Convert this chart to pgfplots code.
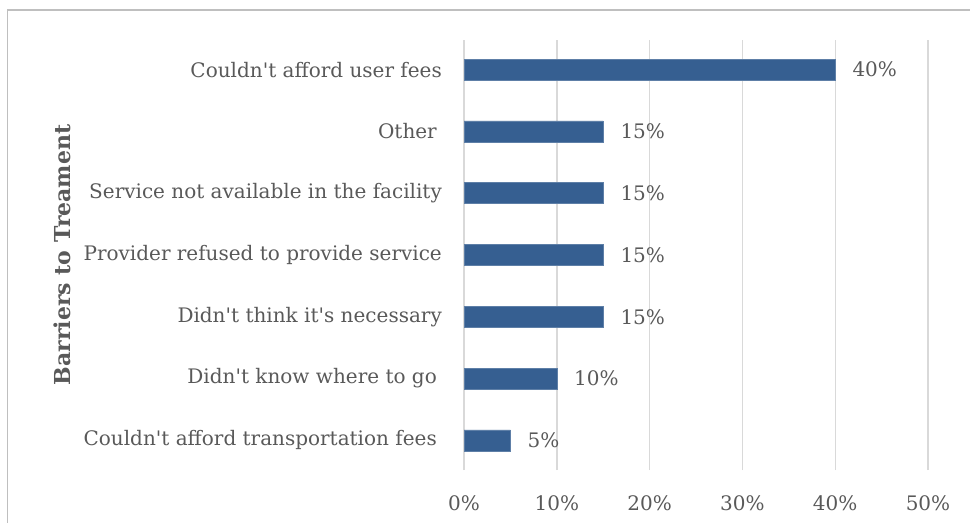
\documentclass[border=0pt]{standalone}
\usepackage{fontspec}
\setmainfont{DejaVu Serif}
\usepackage{pgfplots}
\pgfplotsset{compat=1.18}
\definecolor{barblue}{RGB}{54,95,145}
\definecolor{txtgray}{RGB}{89,89,89}
\definecolor{gridgray}{RGB}{217,217,217}
\definecolor{framegray}{RGB}{191,191,191}
\newcommand{\q}{\textquotesingle}
\newcommand{\pad}{\rule{5bp}{0pt}}
\newcommand{\lblfont}{\fontsize{20bp}{24bp}\selectfont}
\begin{document}
\begin{tikzpicture}[font=\lblfont]
\useasboundingbox (0,0) rectangle (970bp,-523bp);
\draw[framegray, line width=1.5bp] (7.5bp,-523bp) -- (7.5bp,-10bp) -- (970bp,-10bp);
\begin{axis}[
  at={(464bp,-470bp)}, anchor=south west,
  scale only axis, width=464bp, height=430bp,
  xbar, bar width=21bp,
  xmin=0, xmax=50, ymin=-0.48, ymax=6.48,
  axis line style={draw=none},
  /pgf/number format/assume math mode=true,
  xtick={0,10,20,30,40,50},
  xticklabels={0\%,10\%,20\%,30\%,40\%,50\%},
  ytick={0,1,2,3,4,5,6},
  yticklabels={Couldn\q t afford transportation fees\pad,Didn\q t know where to go\pad,Didn\q t think it\q s necessary,Provider refused to provide service,Service not available in the facility,Other\pad,Couldn\q t afford user fees},
  major tick length=0pt,
  xmajorgrids, grid style={gridgray, line width=1.4bp},
  ymajorgrids=false,
  tick label style={text=txtgray, font=\lblfont},
  xticklabel style={anchor=center, yshift=-33bp},
  yticklabel style={anchor=east, inner sep=0pt, xshift=-22bp},
  ylabel={\bfseries Barriers to Treament},
  ylabel style={at={(axis description cs:-0.866,0.5)}, anchor=center, rotate=0, text=txtgray, font=\fontsize{22bp}{26bp}\selectfont},
  nodes near coords={\pgfmathprintnumber{\pgfplotspointmeta}\%},
  nodes near coords style={anchor=west, inner sep=0pt, xshift=17bp, text=txtgray, font=\lblfont},
  point meta=x,
  clip=false,
]
\addplot[fill=barblue, draw=barblue!80!white, line width=0.6bp] coordinates {
  (5,0) (10,1) (15,2) (15,3) (15,4) (15,5) (40,6)
};
\end{axis}
\end{tikzpicture}
\end{document}
